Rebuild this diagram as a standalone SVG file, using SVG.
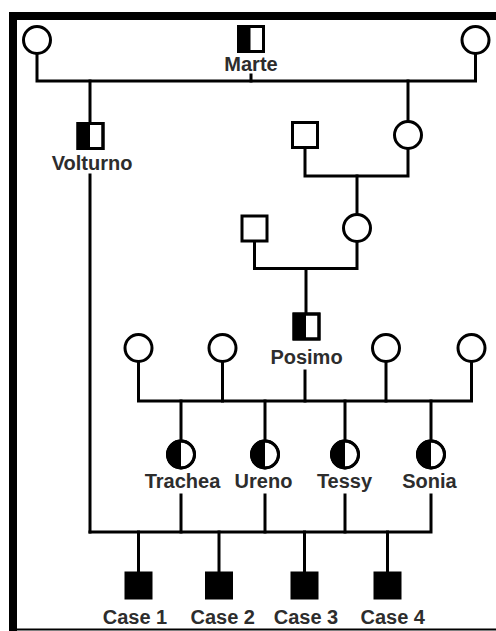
<svg xmlns="http://www.w3.org/2000/svg" width="496" height="631" viewBox="0 0 496 631">
<style>
.ln{fill:none;stroke:#000;stroke-width:3;stroke-linecap:square}
.sq{fill:#fff;stroke:#000;stroke-width:3}
.ci{fill:#fff;stroke:#000;stroke-width:3}
.fill{fill:#000}
.lb{font-family:"Liberation Sans",Arial,sans-serif;font-weight:bold;font-size:20px;fill:#2d2d2d;text-anchor:middle}
</style>
<rect x="0" y="0" width="496" height="631" fill="#fff"/>
<g id="frame">
<rect x="9" y="12" width="487" height="8" fill="#000"/>
<rect x="9" y="12" width="8" height="619" fill="#000"/>
<rect x="9" y="628.5" width="487" height="2" fill="#000"/>
</g>
<g id="connectors">
<polyline class="ln" points="37,54 37,81 475.5,81 475.5,54"/>
<line class="ln" x1="251" y1="75" x2="251" y2="81"/>
<line class="ln" x1="90" y1="81" x2="90" y2="122"/>
<line class="ln" x1="408" y1="81" x2="408" y2="121"/>
<polyline class="ln" points="305,149 305,176 408,176 408,149"/>
<line class="ln" x1="357" y1="176" x2="357" y2="214"/>
<polyline class="ln" points="254.5,242 254.5,268.5 357,268.5 357,242"/>
<line class="ln" x1="306" y1="268.5" x2="306" y2="313"/>
<line class="ln" x1="90" y1="175" x2="90" y2="532"/>
<line class="ln" x1="305" y1="371" x2="305" y2="401"/>
<polyline class="ln" points="138.5,362 138.5,401 471.5,401 471.5,362"/>
<line class="ln" x1="222.5" y1="362" x2="222.5" y2="401"/>
<line class="ln" x1="386" y1="362" x2="386" y2="401"/>
<line class="ln" x1="181" y1="401" x2="181" y2="440"/>
<line class="ln" x1="265" y1="401" x2="265" y2="440"/>
<line class="ln" x1="345" y1="401" x2="345" y2="440"/>
<line class="ln" x1="431" y1="401" x2="431" y2="440"/>
<line class="ln" x1="181" y1="495" x2="181" y2="532"/>
<line class="ln" x1="265" y1="495" x2="265" y2="532"/>
<line class="ln" x1="345" y1="495" x2="345" y2="532"/>
<polyline class="ln" points="90,532 431,532 431,495"/>
<line class="ln" x1="138.5" y1="532" x2="138.5" y2="572"/>
<line class="ln" x1="219" y1="532" x2="219" y2="572"/>
<line class="ln" x1="304.5" y1="532" x2="304.5" y2="572"/>
<line class="ln" x1="387.5" y1="532" x2="387.5" y2="572"/>
</g>
<g id="gm1"><circle class="ci" cx="37" cy="40" r="13.5"/></g>
<g id="marte">
<rect class="sq" x="238.5" y="26.5" width="25" height="25"/>
<rect class="fill" x="238.5" y="26.5" width="12" height="25"/>
<rect x="238.5" y="26.5" width="25" height="25" fill="none" stroke="#000" stroke-width="3"/>
<text class="lb" x="251" y="71">Marte</text>
</g>
<g id="gm2"><circle class="ci" cx="475.5" cy="40" r="13.5"/></g>
<g id="volturno">
<rect class="sq" x="78" y="123.5" width="25" height="25"/>
<rect class="fill" x="78" y="123.5" width="12" height="25"/>
<rect x="78" y="123.5" width="25" height="25" fill="none" stroke="#000" stroke-width="3"/>
<text class="lb" x="92" y="170">Volturno</text>
</g>
<g id="m2"><rect class="sq" x="292.5" y="122.5" width="25" height="25"/></g>
<g id="f2"><circle class="ci" cx="408" cy="135" r="13.5"/></g>
<g id="m3"><rect class="sq" x="242" y="216" width="25" height="25"/></g>
<g id="f3"><circle class="ci" cx="357" cy="228" r="13.5"/></g>
<g id="posimo">
<rect class="sq" x="294" y="314" width="25" height="25"/>
<rect class="fill" x="294" y="314" width="12" height="25"/>
<rect x="294" y="314" width="25" height="25" fill="none" stroke="#000" stroke-width="3"/>
<text class="lb" x="306.5" y="364">Posimo</text>
</g>
<g id="w1"><circle class="ci" cx="138.5" cy="348" r="13.5"/></g>
<g id="w2"><circle class="ci" cx="222.5" cy="348" r="13.5"/></g>
<g id="w3"><circle class="ci" cx="386" cy="348" r="13.5"/></g>
<g id="w4"><circle class="ci" cx="471.5" cy="348" r="13.5"/></g>
<g id="trachea">
<circle class="ci" cx="181" cy="454.5" r="13.5"/>
<path class="fill" d="M181,441 A13.5,13.5 0 0 0 181,468 Z"/>
<circle cx="181" cy="454.5" r="13.5" fill="none" stroke="#000" stroke-width="3"/>
<text class="lb" x="182.5" y="488">Trachea</text>
</g>
<g id="ureno">
<circle class="ci" cx="265" cy="454.5" r="13.5"/>
<path class="fill" d="M265,441 A13.5,13.5 0 0 0 265,468 Z"/>
<circle cx="265" cy="454.5" r="13.5" fill="none" stroke="#000" stroke-width="3"/>
<text class="lb" x="263.5" y="488">Ureno</text>
</g>
<g id="tessy">
<circle class="ci" cx="345" cy="454.5" r="13.5"/>
<path class="fill" d="M345,441 A13.5,13.5 0 0 0 345,468 Z"/>
<circle cx="345" cy="454.5" r="13.5" fill="none" stroke="#000" stroke-width="3"/>
<text class="lb" x="344.5" y="488">Tessy</text>
</g>
<g id="sonia">
<circle class="ci" cx="431" cy="454.5" r="13.5"/>
<path class="fill" d="M431,441 A13.5,13.5 0 0 0 431,468 Z"/>
<circle cx="431" cy="454.5" r="13.5" fill="none" stroke="#000" stroke-width="3"/>
<text class="lb" x="429.5" y="488">Sonia</text>
</g>
<g id="case1"><rect class="fill" x="124.5" y="571.5" width="28" height="28"/><text class="lb" x="135" y="624">Case 1</text></g>
<g id="case2"><rect class="fill" x="205" y="571.5" width="28" height="28"/><text class="lb" x="222.7" y="624">Case 2</text></g>
<g id="case3"><rect class="fill" x="290.5" y="571.5" width="28" height="28"/><text class="lb" x="306" y="624">Case 3</text></g>
<g id="case4"><rect class="fill" x="373.5" y="571.5" width="28" height="28"/><text class="lb" x="392.7" y="624">Case 4</text></g>
</svg>
